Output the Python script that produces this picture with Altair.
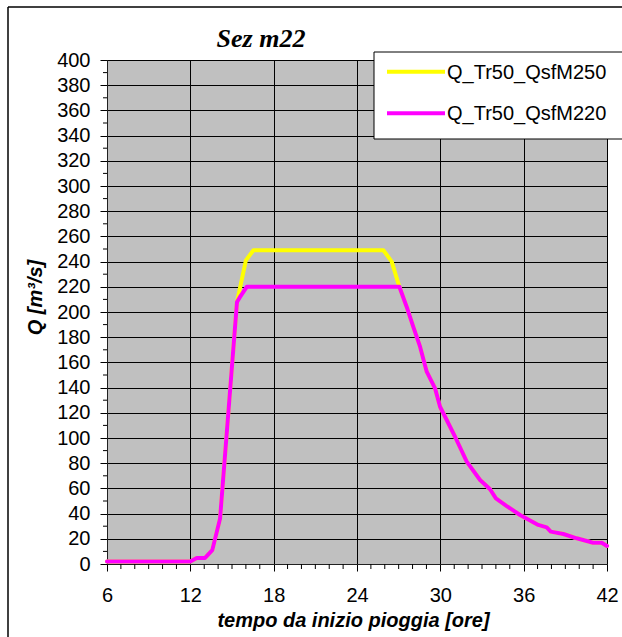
import altair as alt
import pandas as pd

# ---------------- data ----------------
series_names = ["Q_Tr50_QsfM250", "Q_Tr50_QsfM220"]
series_colors = ["#FFFF00", "#FF00FF"]

t_m220 = [6, 12, 12.46, 13.06, 13.58, 14.14, 15.36, 15.58, 16.06, 27.05, 27.58,
          28.06, 28.54, 29.02, 29.62, 29.98, 30.46, 31.06, 31.9, 32.86, 33.58,
          34.0, 34.78, 35.74, 37.05, 37.66, 37.95, 38.86, 39.82, 41.0, 41.62, 42]
q_m220 = [2, 2, 4.8, 4.8, 11, 36, 208, 212, 220, 220, 204,
          188, 172.5, 152.6, 139.4, 124.8, 114.3, 101, 81.2, 66.7, 59.3,
          52.1, 46, 38.9, 31, 29.1, 25.7, 23.8, 20.4, 16.9, 16.9, 14.3]

t_m250 = [6, 12, 12.46, 13.06, 13.58, 14.14, 15.36, 16.0, 16.54, 25.9, 26.5,
          27.05, 27.58, 28.06, 28.54, 29.02, 29.62, 29.98, 30.46, 31.06, 31.9,
          32.86, 33.58, 34.0, 34.78, 35.74, 37.05, 37.66, 37.95, 38.86, 39.82,
          41.0, 41.62, 42]
q_m250 = [2, 2, 4.8, 4.8, 11, 36, 208, 241, 249, 249, 240,
          220, 204, 188, 172.5, 152.6, 139.4, 124.8, 114.3, 101, 81.2,
          66.7, 59.3, 52.1, 46, 38.9, 31, 29.1, 25.7, 23.8, 20.4,
          16.9, 16.9, 14.3]

x_major = [6, 12, 18, 24, 30, 36, 42]
x_minor = [h for h in range(6, 43) if h % 6 != 0]
y_major = list(range(0, 401, 20))
y_minor = list(range(10, 400, 20))

chart_title = "Sez m22"
x_title = "tempo da inizio pioggia [ore]"
y_title = "Q [m³/s]"

# ---------------- chart ----------------
SANS = "Liberation Sans"
W, H = 500, 504

xscale = alt.Scale(domain=[6, 42], nice=False, zero=False)
yscale = alt.Scale(domain=[0, 400], nice=False)

x_axis = alt.Axis(values=x_major, grid=True, gridColor="black", gridWidth=1,
                  domainColor="#202020", tickColor="black", tickSize=7,
                  labelFont=SANS, labelFontSize=20, labelColor="black",
                  labelPadding=14, labelFlush=False,
                  title=x_title, titleFont=SANS, titleFontSize=20,
                  titleFontWeight="bold", titleFontStyle="italic", titleColor="black",
                  titleX=246, titleY=62, titleAlign="center", titleBaseline="alphabetic")
y_axis = alt.Axis(values=y_major, grid=True, gridColor="black", gridWidth=1,
                  domainColor="#202020", tickColor="black", tickSize=7,
                  labelFont=SANS, labelFontSize=20, labelColor="black",
                  labelPadding=10, labelFlush=False,
                  title=y_title, titleFont=SANS, titleFontSize=20,
                  titleFontWeight="bold", titleFontStyle="italic", titleColor="black",
                  titleAngle=270, titleX=-66, titleY=237, titleAlign="center",
                  titleBaseline="alphabetic")

X = lambda f: alt.X(f, scale=xscale, axis=x_axis)
Y = lambda f: alt.Y(f, scale=yscale, axis=y_axis)

df250 = pd.DataFrame({"t": t_m250, "Q": q_m250})
df220 = pd.DataFrame({"t": t_m220, "Q": q_m220})

line250 = alt.Chart(df250).mark_line(
    color=series_colors[0], strokeWidth=4, strokeJoin="round", strokeCap="round"
).encode(x=X("t:Q"), y=Y("Q:Q"))

line220 = alt.Chart(df220).mark_line(
    color=series_colors[1], strokeWidth=4, strokeJoin="round", strokeCap="round"
).encode(x=X("t:Q"), y=Y("Q:Q"))

ymin = alt.Chart(pd.DataFrame({"v": y_minor})).mark_rule(color="black").encode(
    y=Y("v:Q"), x=alt.value(-4), x2=alt.value(0))
xmin = alt.Chart(pd.DataFrame({"v": x_minor})).mark_rule(color="black").encode(
    x=X("v:Q"), y=alt.value(H), y2=alt.value(H + 5))

one = pd.DataFrame({"k": [0]})

# legend (manual)
leg_box = alt.Chart(one).mark_rect(fill="white", stroke="black", strokeWidth=1).encode(
    x=alt.value(267), x2=alt.value(600), y=alt.value(-8), y2=alt.value(79))
leg_layers = [leg_box]
for i, (nm, col) in enumerate(zip(series_names, series_colors)):
    yl = 11.7 + i * 41.6
    leg_layers.append(alt.Chart(one).mark_rule(color=col, strokeWidth=4).encode(
        x=alt.value(280), x2=alt.value(338), y=alt.value(yl)))
    leg_layers.append(alt.Chart(pd.DataFrame({"name": [nm]})).mark_text(
        align="left", baseline="alphabetic", font=SANS, fontSize=20, color="black"
    ).encode(text="name:N", x=alt.value(340), y=alt.value(yl + 6.8)))

title_mark = alt.Chart(one).mark_text(
    text=chart_title, font="Liberation Serif", fontSize=26, fontWeight="bold",
    fontStyle="italic", align="center", baseline="alphabetic", color="black"
).encode(x=alt.value(154), y=alt.value(-13))

border_left = alt.Chart(one).mark_rule(color="black", strokeWidth=1.5).encode(
    x=alt.value(-99), y=alt.value(-53), y2=alt.value(620))
border_top = alt.Chart(one).mark_rule(color="black", strokeWidth=1.5).encode(
    x=alt.value(-99), x2=alt.value(600), y=alt.value(-53))

chart = alt.layer(
    line250, line220, ymin, xmin, *leg_layers, title_mark, border_left, border_top
).properties(
    width=W, height=H,
    padding={"left": 107, "top": 60, "right": 15, "bottom": 73},
    autosize=alt.AutoSizeParams(type="none"),
    background="white",
).configure_view(fill="#C0C0C0", stroke="#808080", strokeWidth=1)

chart.save("out.html", embed_options={"renderer": "svg", "actions": False})
